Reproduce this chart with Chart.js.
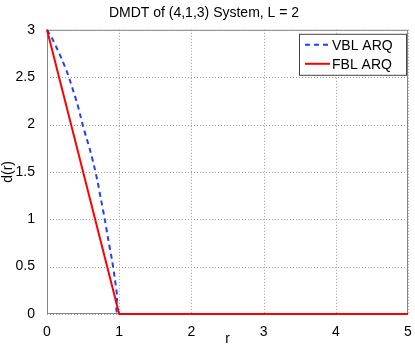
<!DOCTYPE html>
<html>
<head>
<meta charset="utf-8">
<script src="https://cdn.jsdelivr.net/npm/chart.js@4/dist/chart.umd.min.js"></script>
<style>
  html, body { margin: 0; padding: 0; background: #fff; }
  #wrap { width: 415px; height: 351px; }
</style>
</head>
<body>
<div id="wrap"><canvas id="c" width="415" height="351"></canvas></div>
<script>
// values
var vblR = [0, 0.07, 0.14, 0.21, 0.27, 0.32, 0.37, 0.42, 0.46, 0.5, 0.55, 0.6, 0.65, 0.7, 0.75, 0.8, 0.85, 0.9, 0.94, 0.97, 1, 5];
var vblD = [3, 2.91, 2.8, 2.68, 2.57, 2.46, 2.34, 2.22, 2.1, 1.98, 1.85, 1.72, 1.57, 1.4, 1.2, 1.0, 0.78, 0.57, 0.37, 0.2, 0, 0];
var fblR = [0, 1, 5];
var fblD = [3, 0, 0];
var xTicks = [0, 1, 2, 3, 4, 5];
var yTicks = [0, 0.5, 1, 1.5, 2, 2.5, 3];
var seriesNames = ["VBL ARQ", "FBL ARQ"];

var FONT = "'Liberation Sans', Arial, sans-serif";

function pts(xs, ys) {
    return xs.map(function(x, i) { return { x: x, y: ys[i] }; });
}

/* dotted grid + frame under the lines, boxed legend on top */
var framePlugin = {
    id: "frame",
    beforeDatasetsDraw: function(chart) {
        var ctx = chart.ctx, a = chart.chartArea;
        var xs = chart.scales.x, ys = chart.scales.y;
        ctx.save();
        ctx.strokeStyle = "#9a9a9a";
        ctx.lineWidth = 1;
        ctx.setLineDash([1, 2]);
        xTicks.forEach(function(v) {
            var px = Math.round(xs.getPixelForValue(v)) + 0.5;
            ctx.beginPath(); ctx.moveTo(px, a.top); ctx.lineTo(px, a.bottom); ctx.stroke();
        });
        yTicks.forEach(function(v) {
            var py = Math.round(ys.getPixelForValue(v)) + 0.5;
            ctx.beginPath(); ctx.moveTo(a.left, py); ctx.lineTo(a.right, py); ctx.stroke();
        });
        ctx.setLineDash([]);
        ctx.strokeStyle = "#858585";
        ctx.strokeRect(a.left + 0.5, a.top + 0.5, a.right - a.left - 1, a.bottom - a.top - 1);
        ctx.restore();
    },
    afterDatasetsDraw: function(chart) {
        var ctx = chart.ctx, a = chart.chartArea;
        ctx.save();
        var bx = a.right - 109, by = a.top + 4, bw = 107, bh = 41;
        ctx.fillStyle = "#fff";
        ctx.fillRect(bx, by, bw, bh);
        ctx.strokeStyle = "#444";
        ctx.lineWidth = 1;
        ctx.strokeRect(bx + 0.5, by + 0.5, bw, bh);
        ctx.font = "14px " + FONT;
        ctx.textBaseline = "middle";
        chart.data.datasets.forEach(function(ds, i) {
            var yy = by + 11 + i * 19;
            ctx.beginPath();
            ctx.strokeStyle = ds.borderColor;
            ctx.lineWidth = 2;
            ctx.setLineDash(ds.borderDash || []);
            ctx.moveTo(bx + 6, yy);
            ctx.lineTo(bx + 31, yy);
            ctx.stroke();
            ctx.setLineDash([]);
            ctx.fillStyle = "#000";
            ctx.fillText(seriesNames[i], bx + 33, yy + 1);
        });
        ctx.restore();
    }
};

new Chart(document.getElementById("c"), {
    type: "scatter",
    data: {
        datasets: [{
            label: seriesNames[0],
            data: pts(vblR, vblD),
            showLine: true,
            borderColor: "#2040ff",
            borderWidth: 2,
            borderDash: [5, 4],
            pointRadius: 0,
            tension: 0.3,
            clip: false,
            order: 1
        }, {
            label: seriesNames[1],
            data: pts(fblR, fblD),
            showLine: true,
            borderColor: "#ff0000",
            borderWidth: 2,
            pointRadius: 0,
            tension: 0,
            clip: false,
            order: 0
        }]
    },
    options: {
        responsive: false,
        animation: false,
        layout: { padding: { left: 0, right: 7, top: 0, bottom: 0 } },
        plugins: {
            legend: { display: false },
            tooltip: { enabled: false },
            title: {
                display: true,
                text: "DMDT of (4,1,3) System, L = 2",
                color: "#000",
                font: { family: FONT, size: 14, weight: "normal" },
                padding: { top: 5, bottom: 8 }
            }
        },
        scales: {
            x: {
                type: "linear",
                min: 0, max: 5,
                afterBuildTicks: function(s) { s.ticks = xTicks.map(function(v) { return { value: v }; }); },
                afterFit: function(s) { s.height = 37; },
                ticks: { color: "#000", font: { family: FONT, size: 14 }, padding: 2, maxRotation: 0,
                         callback: function(v) { return String(v); } },
                grid: { display: false },
                border: { display: false },
                title: { display: true, text: "r", color: "#000", font: { family: FONT, size: 14 },
                         padding: { top: 0, bottom: 3 } }
            },
            y: {
                type: "linear",
                min: 0, max: 3,
                afterBuildTicks: function(s) { s.ticks = yTicks.map(function(v) { return { value: v }; }); },
                afterFit: function(s) { s.width = 47; },
                ticks: { color: "#000", font: { family: FONT, size: 14 }, padding: 4,
                         callback: function(v) { return String(v); } },
                grid: { display: false },
                border: { display: false },
                title: { display: true, text: "d(r)", color: "#000", font: { family: FONT, size: 14 },
                         padding: { top: 0, bottom: 2 } }
            }
        }
    },
    plugins: [framePlugin]
});
</script>
</body>
</html>
